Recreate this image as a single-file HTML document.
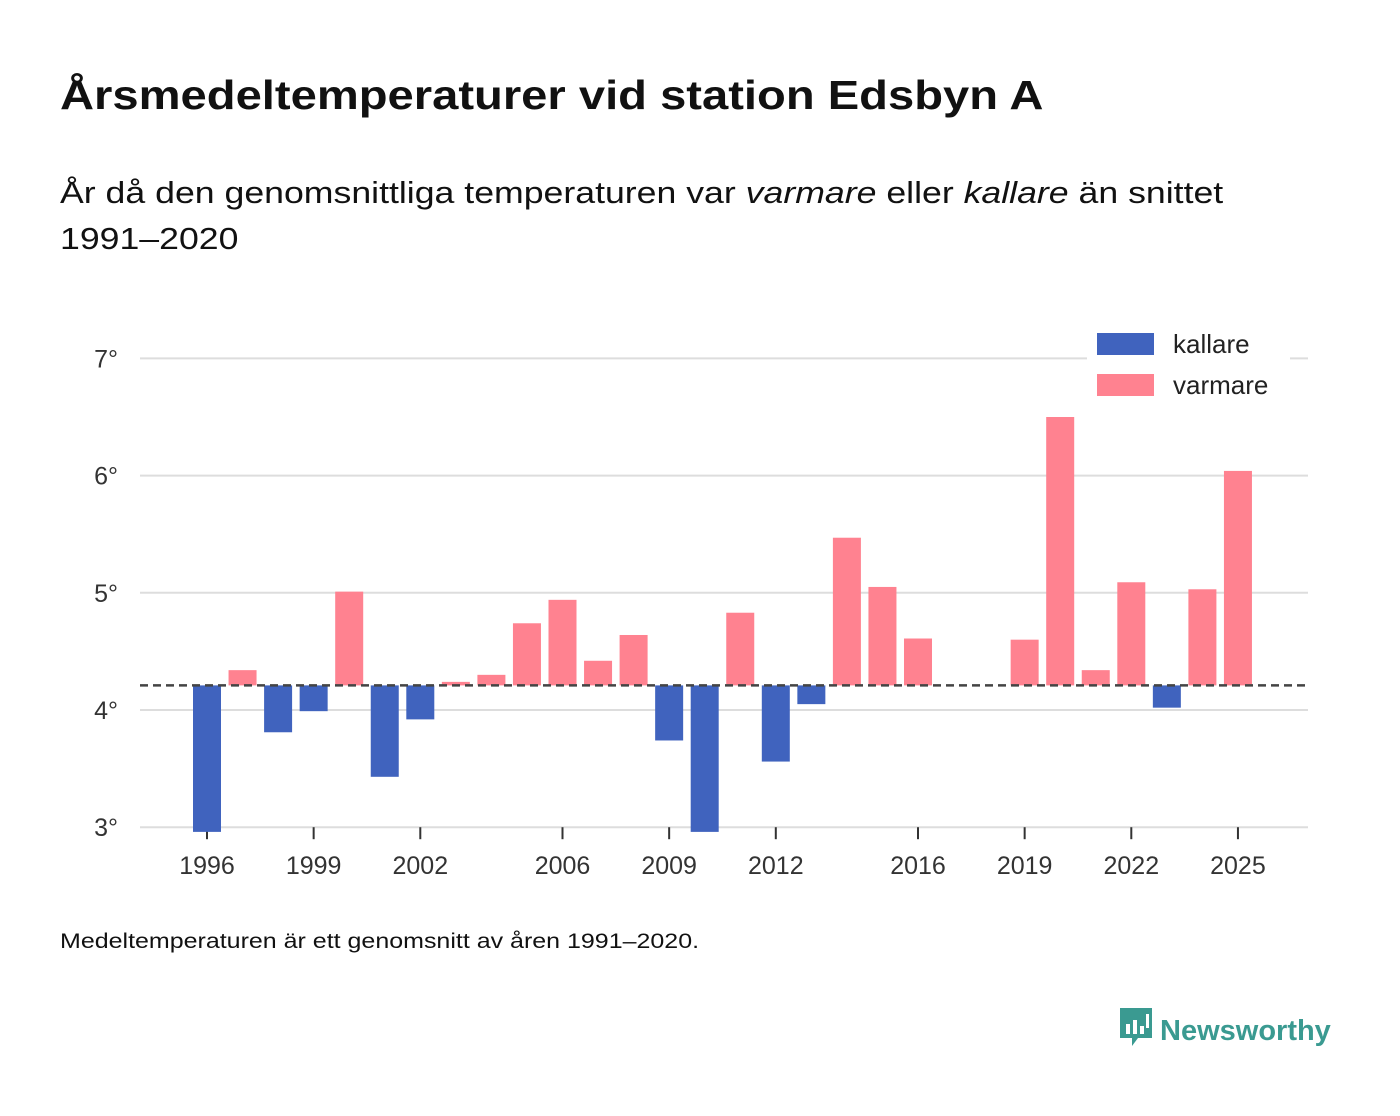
<!DOCTYPE html>
<html><head><meta charset="utf-8"><style>
body{margin:0;width:1400px;height:1116px;background:#fff;font-family:"Liberation Sans",sans-serif;color:#111;position:relative;overflow:hidden}
.t{position:absolute;left:60px;top:72px;font-size:41px;font-weight:bold;margin:0;transform:scaleX(1.15);transform-origin:0 0;white-space:nowrap}
.s{position:absolute;left:60px;top:170px;font-size:31px;line-height:46px;white-space:nowrap;transform:scaleX(1.15);transform-origin:0 0}
.f{position:absolute;left:60px;top:930px;font-size:21px;transform:scaleX(1.19);transform-origin:0 0;white-space:nowrap}
.logo{position:absolute;left:1118px;top:1006px;font-size:29px;font-weight:bold;color:#3a9a91}
</style></head><body>
<h1 class="t">Årsmedeltemperaturer vid station Edsbyn A</h1>
<div class="s">År då den genomsnittliga temperaturen var <i>varmare</i> eller <i>kallare</i> än snittet<br>1991–2020</div>
<svg id="c" width="1400" height="1116" style="position:absolute;left:0;top:0"></svg>
<div class="f">Medeltemperaturen är ett genomsnitt av åren 1991–2020.</div>
<div class="logo"><svg width="36" height="44" style="vertical-align:-10px;margin-right:6px"><path d="M2 2h32v30h-14l-6 8v-8h-12z" fill="#3a9a91"/><rect x="8" y="18" width="4" height="10" fill="#fff"/><rect x="15" y="14" width="4" height="14" fill="#fff"/><rect x="22" y="20" width="4" height="8" fill="#fff"/><rect x="28" y="8" width="3" height="14" fill="#fff"/></svg>Newsworthy</div>
<script>
const years=[1996,1997,1998,1999,2000,2001,2002,2003,2004,2005,2006,2007,2008,2009,2010,2011,2012,2013,2014,2015,2016,2017,2018,2019,2020,2021,2022,2023,2024,2025];
const temps=[2.96,4.34,3.81,3.99,5.01,3.43,3.92,4.24,4.30,4.74,4.94,4.42,4.64,3.74,2.96,4.83,3.56,4.05,5.47,5.05,4.61,null,null,4.60,6.50,4.34,5.09,4.02,5.03,6.04];
const baseline=4.21;
const yTicks=[3,4,5,6,7];
const xTicks=[1996,1999,2002,2006,2009,2012,2016,2019,2022,2025];
const NS="http://www.w3.org/2000/svg",svg=document.getElementById('c');
const y=v=>710-(v-4)*117.2, x=yr=>207+(yr-1996)*35.55;
function mk(t,a,txt){const e=document.createElementNS(NS,t);for(const k in a)e.setAttribute(k,a[k]);if(txt!=null)e.textContent=txt;svg.appendChild(e);return e;}
yTicks.forEach(v=>{
 const g=mk('line',{x1:140,x2:1308,y1:y(v),y2:y(v),stroke:'#ddd','stroke-width':2});
 
 
 const l=mk('text',{x:118,y:y(v)+9,'text-anchor':'end','font-size':25,fill:'#333'},v+'°');
 
 
});
xTicks.forEach(yr=>{
 const t=mk('line',{x1:x(yr),x2:x(yr),y1:y(3),y2:y(3)+12,stroke:'#333','stroke-width':2});
 
 
 const l=mk('text',{x:x(yr),y:874,'text-anchor':'middle','font-size':25,fill:'#333'},yr);
 
 
});
years.forEach((yr,i)=>{
 const v=temps[i]; if(v==null)return;
 const top=Math.min(y(v),y(baseline)),h=Math.abs(y(v)-y(baseline));
 const b=mk('rect',{x:x(yr)-14,y:top,width:28,height:h,fill:v<baseline?'#4063be':'#ff8290'});
 
 
});
const d=mk('line',{x1:140,x2:1308,y1:y(baseline),y2:y(baseline),stroke:'#444','stroke-width':2.5,'stroke-dasharray':'8,5'});


const lb=mk('rect',{x:1087,y:325,width:203,height:76,fill:'#fff'});


[['kallare','#4063be',333],['varmare','#ff8290',374]].forEach(([n,c,yy])=>{
 const r=mk('rect',{x:1097,y:yy,width:57,height:22,fill:c});
 
 
 const t=mk('text',{x:1173,y:yy+20,'font-size':26,fill:'#222'},n);
 
 
});
</script>
</body></html>
